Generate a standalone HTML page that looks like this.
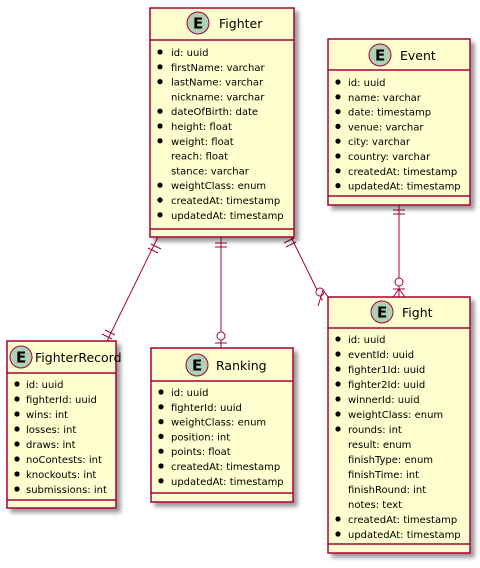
<!DOCTYPE html>
<html><head><style>
html,body{margin:0;padding:0;background:#fff;}
text{font-family:"DejaVu Sans","Liberation Sans",sans-serif;font-size:10px;fill:#000;}
.t{font-size:12.5px;}
.b{fill:#FEFECE;stroke:#A80036;stroke-width:1.5;}
.l{stroke:#A80036;stroke-width:1;fill:none;}
.c{fill:#ADD1B2;stroke:#A80036;stroke-width:1;}
.e{font-size:15px;font-weight:bold;}
</style></head><body>
<svg width="480" height="563" xmlns="http://www.w3.org/2000/svg">
<defs><filter id="s" x="-10%" y="-10%" width="130%" height="130%"><feGaussianBlur in="SourceAlpha" stdDeviation="2"/><feOffset dx="4" dy="4"/><feComponentTransfer><feFuncA type="linear" slope="0.4"/></feComponentTransfer><feMerge><feMergeNode/><feMergeNode in="SourceGraphic"/></feMerge></filter></defs>

<g class="l">
<line x1="158" y1="237" x2="107" y2="341"/>
<line x1="151" y1="244" x2="161" y2="249"/><line x1="148" y1="248" x2="158" y2="253"/>
<line x1="105" y1="330" x2="115" y2="335"/><line x1="102" y1="334" x2="112" y2="339"/>
<line x1="221" y1="237" x2="221" y2="348"/>
<line x1="215" y1="243" x2="227" y2="243"/><line x1="215" y1="247" x2="227" y2="247"/>
<line x1="215" y1="343" x2="227" y2="343"/><circle cx="221" cy="336" r="4" fill="#fff"/>
<line x1="291" y1="237" x2="322" y2="300"/>
<line x1="284" y1="243" x2="294" y2="238"/><line x1="286" y1="247" x2="296" y2="242"/>
<circle cx="320" cy="292" r="4" fill="#fff"/>
<line x1="322" y1="300" x2="323" y2="300"/>
<line x1="323" y1="290" x2="318" y2="306"/><line x1="323" y1="290" x2="332" y2="302"/>
<line x1="399" y1="205" x2="399" y2="297"/>
<line x1="393" y1="210" x2="405" y2="210"/><line x1="393" y1="214" x2="405" y2="214"/>
<circle cx="399" cy="282" r="4" fill="#fff"/>
<line x1="393" y1="297" x2="399" y2="289"/><line x1="405" y1="297" x2="399" y2="289"/><line x1="393" y1="289" x2="405" y2="289"/>
</g>

<rect class="b" x="150" y="8" width="144" height="229" filter="url(#s)"/>
<line class="l" x1="150" y1="40" x2="294" y2="40" style="stroke-width:1.5"/>
<line class="l" x1="150" y1="229" x2="294" y2="229" style="stroke-width:1.5"/>
<circle class="c" cx="198" cy="23" r="11"/><text class="e" x="193" y="28.5">E</text>
<text class="t" x="219" y="28">Fighter</text>
<g>
<circle cx="160" cy="52" r="2.6"/><text x="171" y="56">id: uuid</text>
<circle cx="160" cy="66.8" r="2.6"/><text x="171" y="70.8">firstName: varchar</text>
<circle cx="160" cy="81.6" r="2.6"/><text x="171" y="85.6">lastName: varchar</text>
<text x="171" y="100.4">nickname: varchar</text>
<circle cx="160" cy="111.2" r="2.6"/><text x="171" y="115.2">dateOfBirth: date</text>
<circle cx="160" cy="126" r="2.6"/><text x="171" y="130">height: float</text>
<circle cx="160" cy="140.8" r="2.6"/><text x="171" y="144.8">weight: float</text>
<text x="171" y="159.6">reach: float</text>
<text x="171" y="174.4">stance: varchar</text>
<circle cx="160" cy="185.2" r="2.6"/><text x="171" y="189.2">weightClass: enum</text>
<circle cx="160" cy="200" r="2.6"/><text x="171" y="204">createdAt: timestamp</text>
<circle cx="160" cy="214.8" r="2.6"/><text x="171" y="218.8">updatedAt: timestamp</text>
</g>

<rect class="b" x="328" y="39" width="142" height="166" filter="url(#s)"/>
<line class="l" x1="328" y1="70" x2="470" y2="70" style="stroke-width:1.5"/>
<line class="l" x1="328" y1="196" x2="470" y2="196" style="stroke-width:1.5"/>
<circle class="c" cx="380" cy="55" r="11"/><text class="e" x="375" y="60.5">E</text>
<text class="t" x="400" y="60">Event</text>
<circle cx="338" cy="82" r="2.6"/><text x="348" y="86">id: uuid</text>
<circle cx="338" cy="96.8" r="2.6"/><text x="348" y="100.8">name: varchar</text>
<circle cx="338" cy="111.6" r="2.6"/><text x="348" y="115.6">date: timestamp</text>
<circle cx="338" cy="126.4" r="2.6"/><text x="348" y="130.4">venue: varchar</text>
<circle cx="338" cy="141.2" r="2.6"/><text x="348" y="145.2">city: varchar</text>
<circle cx="338" cy="156" r="2.6"/><text x="348" y="160">country: varchar</text>
<circle cx="338" cy="170.8" r="2.6"/><text x="348" y="174.8">createdAt: timestamp</text>
<circle cx="338" cy="185.6" r="2.6"/><text x="348" y="189.6">updatedAt: timestamp</text>

<rect class="b" x="7" y="341" width="109" height="167" filter="url(#s)"/>
<line class="l" x1="7" y1="373" x2="116" y2="373" style="stroke-width:1.5"/>
<line class="l" x1="7" y1="500" x2="116" y2="500" style="stroke-width:1.5"/>
<circle class="c" cx="21" cy="357" r="11"/><text class="e" x="16" y="362.5">E</text>
<text class="t" x="35" y="362">FighterRecord</text>
<circle cx="17" cy="384" r="2.6"/><text x="26" y="388">id: uuid</text>
<circle cx="17" cy="399" r="2.6"/><text x="26" y="403">fighterId: uuid</text>
<circle cx="17" cy="414" r="2.6"/><text x="26" y="418">wins: int</text>
<circle cx="17" cy="429" r="2.6"/><text x="26" y="433">losses: int</text>
<circle cx="17" cy="444" r="2.6"/><text x="26" y="448">draws: int</text>
<circle cx="17" cy="459" r="2.6"/><text x="26" y="463">noContests: int</text>
<circle cx="17" cy="474" r="2.6"/><text x="26" y="478">knockouts: int</text>
<circle cx="17" cy="489" r="2.6"/><text x="26" y="493">submissions: int</text>

<rect class="b" x="151" y="348" width="142" height="154" filter="url(#s)"/>
<line class="l" x1="151" y1="381" x2="293" y2="381" style="stroke-width:1.5"/>
<line class="l" x1="151" y1="493" x2="293" y2="493" style="stroke-width:1.5"/>
<circle class="c" cx="197" cy="365" r="11"/><text class="e" x="192" y="370.5">E</text>
<text class="t" x="216" y="370">Ranking</text>
<circle cx="161" cy="392" r="2.6"/><text x="171" y="396">id: uuid</text>
<circle cx="161" cy="406.8" r="2.6"/><text x="171" y="410.8">fighterId: uuid</text>
<circle cx="161" cy="421.6" r="2.6"/><text x="171" y="425.6">weightClass: enum</text>
<circle cx="161" cy="436.4" r="2.6"/><text x="171" y="440.4">position: int</text>
<circle cx="161" cy="451.2" r="2.6"/><text x="171" y="455.2">points: float</text>
<circle cx="161" cy="466" r="2.6"/><text x="171" y="470">createdAt: timestamp</text>
<circle cx="161" cy="480.8" r="2.6"/><text x="171" y="484.8">updatedAt: timestamp</text>

<rect class="b" x="328" y="297" width="142" height="256" filter="url(#s)"/>
<line class="l" x1="328" y1="328" x2="470" y2="328" style="stroke-width:1.5"/>
<line class="l" x1="328" y1="544" x2="470" y2="544" style="stroke-width:1.5"/>
<circle class="c" cx="382" cy="312" r="11"/><text class="e" x="377" y="317.5">E</text>
<text class="t" x="402" y="317">Fight</text>
<circle cx="338" cy="339" r="2.6"/><text x="348" y="343">id: uuid</text>
<circle cx="338" cy="354" r="2.6"/><text x="348" y="358">eventId: uuid</text>
<circle cx="338" cy="369" r="2.6"/><text x="348" y="373">fighter1Id: uuid</text>
<circle cx="338" cy="384" r="2.6"/><text x="348" y="388">fighter2Id: uuid</text>
<circle cx="338" cy="399" r="2.6"/><text x="348" y="403">winnerId: uuid</text>
<circle cx="338" cy="414" r="2.6"/><text x="348" y="418">weightClass: enum</text>
<circle cx="338" cy="429" r="2.6"/><text x="348" y="433">rounds: int</text>
<text x="348" y="448">result: enum</text>
<text x="348" y="463">finishType: enum</text>
<text x="348" y="478">finishTime: int</text>
<text x="348" y="493">finishRound: int</text>
<text x="348" y="508">notes: text</text>
<circle cx="338" cy="519" r="2.6"/><text x="348" y="523">createdAt: timestamp</text>
<circle cx="338" cy="534" r="2.6"/><text x="348" y="538">updatedAt: timestamp</text>
</svg>
</body></html>
